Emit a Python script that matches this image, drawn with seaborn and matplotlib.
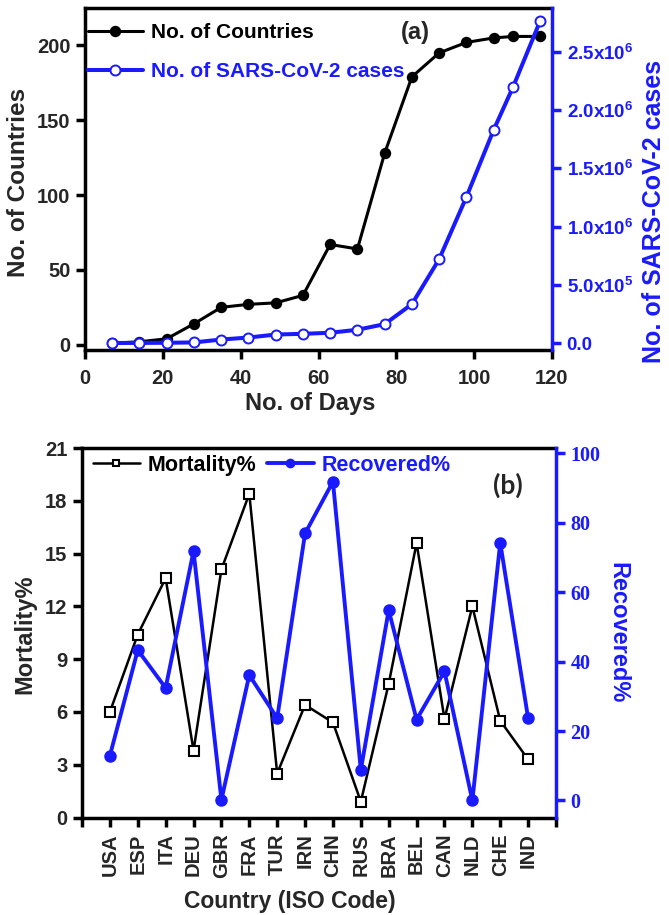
import numpy as np
import pandas as pd
import matplotlib
matplotlib.use("Agg")
import matplotlib.pyplot as plt
import seaborn as sns
from matplotlib.ticker import FuncFormatter

# ---------------- data ----------------
days = [7, 14, 21, 28, 35, 42, 49, 56, 63, 70, 77, 84, 91, 98, 105, 110, 117]
n_countries = [1, 2, 4, 14, 25, 27, 28, 33, 67, 64, 128, 179, 195, 202, 205, 206, 206]
n_cases = [300, 1000, 2000, 5000, 30000, 47000, 73000, 79000, 88000, 114000,
           162000, 334000, 720000, 1254000, 1830000, 2200000, 2770000]

countries = ["USA", "ESP", "ITA", "DEU", "GBR", "FRA", "TUR", "IRN", "CHN",
             "RUS", "BRA", "BEL", "CAN", "NLD", "CHE", "IND"]
mortality = [6.0, 10.4, 13.6, 3.8, 14.1, 18.4, 2.5, 6.4, 5.4, 0.9, 7.6, 15.6,
             5.6, 12.0, 5.5, 3.3]
recovered = [12.9, 43.3, 32.4, 71.8, 0.2, 36.1, 23.7, 76.9, 91.8, 8.8, 54.8,
             23.3, 37.2, 0.0, 74.2, 23.7]

left_ticks_top = [0, 50, 100, 150, 200]
x_ticks_top = [0, 20, 40, 60, 80, 100, 120]
right_ticks_top = [0, 5e5, 1e6, 1.5e6, 2e6, 2.5e6]
left_ticks_bot = [0, 3, 6, 9, 12, 15, 18, 21]
right_ticks_bot = [0, 20, 40, 60, 80, 100]

# ---------------- style ----------------
sns.set_style("ticks")
plt.rcParams["font.family"] = ["Liberation Sans", "DejaVu Sans"]
plt.rcParams["font.weight"] = "bold"
plt.rcParams["axes.labelweight"] = "bold"
plt.rcParams["mathtext.fontset"] = "custom"
plt.rcParams["mathtext.rm"] = "Liberation Sans:bold"
plt.rcParams["mathtext.default"] = "rm"

BLUE = "#1a1aff"
SPW = 2.5

fig = plt.figure(figsize=(6.69, 9.15), dpi=100)
W, H = 669, 915


def axes_px(l, r, t, b):
    return fig.add_axes([l / W, 1 - b / H, (r - l) / W, (b - t) / H])


def style_axes(ax, axb):
    for s in ["left", "bottom", "top"]:
        ax.spines[s].set_linewidth(SPW)
        ax.spines[s].set_color("black")
        axb.spines[s].set_visible(False)
    ax.spines["right"].set_visible(False)
    axb.spines["right"].set_linewidth(SPW)
    axb.spines["right"].set_color(BLUE)
    ax.tick_params(axis="both", direction="out", length=6.5, width=SPW,
                   color="black", labelsize=14.5, pad=4)
    ax.tick_params(axis="x", top=False, pad=5)
    ax.tick_params(axis="y", right=False)
    axb.tick_params(axis="y", direction="out", length=6.5, width=SPW,
                    color=BLUE, labelcolor=BLUE, labelsize=13.5, pad=4)


# ================= panel (a) =================
ax1 = axes_px(85, 552, 8, 350)
ax1b = ax1.twinx()
df_top = pd.DataFrame({"day": days, "countries": n_countries, "cases": n_cases})

sns.lineplot(data=df_top, x="day", y="countries", ax=ax1, color="black",
             linewidth=2.2, marker="o", markersize=7.2, markeredgecolor="black",
             markerfacecolor="black", markeredgewidth=1, legend=False)
sns.lineplot(data=df_top, x="day", y="cases", ax=ax1b, color=BLUE,
             linewidth=2.9, marker="o", markersize=7.2, markeredgecolor=BLUE,
             markerfacecolor="white", markeredgewidth=1.4, legend=False)

ax1.set_xlim(0, 120)
ax1.set_ylim(-3.5, 225)
ax1b.set_ylim(-0.06e6, 2.878e6)
ax1.set_xticks(x_ticks_top)
ax1.set_yticks(left_ticks_top)
ax1b.set_yticks(right_ticks_top)


def sci_fmt(v, pos):
    if v == 0:
        return "0.0"
    e = int(np.floor(np.log10(v) + 1e-9))
    m = v / 10 ** e
    return f"{m:.1f}x10$^{{{e}}}$"


ax1b.yaxis.set_major_formatter(FuncFormatter(sci_fmt))
style_axes(ax1, ax1b)
ax1.tick_params(axis="x", pad=7)

ax1.set_xlabel("No. of Days", fontsize=17)
ax1.set_ylabel("No. of Countries", fontsize=17.5)
ax1b.set_ylabel("No. of SARS-CoV-2 cases", fontsize=18, color=BLUE)
ax1.xaxis.set_label_coords(0.482, -0.155)
ax1.xaxis.label.set_va("center")
ax1.yaxis.set_label_coords(-0.142, 0.491)
ax1.yaxis.label.set_va("center")
ax1b.yaxis.set_label_coords(1.218, 0.406)
ax1b.yaxis.label.set(va="center", rotation=90)

l_a1 = ax1.lines[0]
l_a2 = ax1b.lines[0]
leg = ax1b.legend([l_a1, l_a2], ["No. of Countries", "No. of SARS-CoV-2 cases"],
                  loc="upper left", bbox_to_anchor=(0.0064, 0.956),
                  frameon=False, fontsize=15, handlelength=2.64,
                  handletextpad=0.38, labelspacing=0.96, borderpad=0,
                  borderaxespad=0)
leg.get_texts()[0].set_color("black")
leg.get_texts()[1].set_color(BLUE)
ax1b.text(0.708, 0.927, "(a)", transform=ax1.transAxes, fontsize=17,
          fontweight="bold", ha="center", va="center")

# ================= panel (b) =================
ax2 = axes_px(82, 556, 448, 817.5)
ax2b = ax2.twinx()
df_bot = pd.DataFrame({"country": countries, "mortality": mortality,
                       "recovered": recovered})

sns.lineplot(data=df_bot, x="country", y="mortality", ax=ax2, sort=False,
             color="black", linewidth=1.8, marker="s", markersize=6.5,
             markeredgecolor="black", markerfacecolor="white",
             markeredgewidth=1.5, legend=False)
sns.lineplot(data=df_bot, x="country", y="recovered", ax=ax2b, sort=False,
             color=BLUE, linewidth=2.8, marker="o", markersize=8,
             markeredgecolor=BLUE, markerfacecolor=BLUE,
             markeredgewidth=1, legend=False)

ax2.set_xlim(-1, len(countries))
ax2.set_ylim(0, 21)
ax2b.set_ylim(-4.9, 101.5)
ax2.set_xticks(range(-1, len(countries) + 1))
ax2.set_xticklabels([""] + countries + [""], rotation=90, fontsize=14.5,
                    fontweight="bold")
ax2.set_yticks(left_ticks_bot)
ax2.set_yticklabels([str(v) for v in left_ticks_bot], fontsize=14)
style_axes(ax2, ax2b)
ax2b.set_yticks(right_ticks_bot)
ax2b.set_yticklabels([str(v) for v in right_ticks_bot],
                     fontfamily="Liberation Serif", fontweight="bold",
                     fontsize=14.5, color=BLUE)

ax2.set_xlabel("Country (ISO Code)", fontsize=16.5)
ax2.set_ylabel("Mortality%", fontsize=17)
ax2b.set_ylabel("Recovered%", fontsize=17, color=BLUE)
ax2.xaxis.set_label_coords(0.439, -0.226)
ax2.xaxis.label.set_va("center")
ax2.yaxis.set_label_coords(-0.120, 0.497)
ax2.yaxis.label.set_va("center")
ax2b.yaxis.set_label_coords(1.131, 0.499)
ax2b.yaxis.label.set(va="center", rotation=270)

l_b1 = ax2.lines[0]
l_b2 = ax2b.lines[0]
leg2 = ax2b.legend([l_b1, l_b2], ["Mortality%", "Recovered%"], ncol=2,
                   loc="upper left", bbox_to_anchor=(0.023, 0.981),
                   frameon=False, fontsize=15.5, handlelength=2.19,
                   handletextpad=0.33, columnspacing=0.51, borderpad=0,
                   borderaxespad=0, markerscale=0.75)
leg2.get_texts()[0].set_color("black")
leg2.get_texts()[1].set_color(BLUE)
ax2b.text(0.899, 0.900, "(b)", transform=ax2.transAxes, fontsize=19,
          fontfamily="Lato", fontweight="bold", ha="center", va="center")

fig.savefig("out.png", dpi=100)
